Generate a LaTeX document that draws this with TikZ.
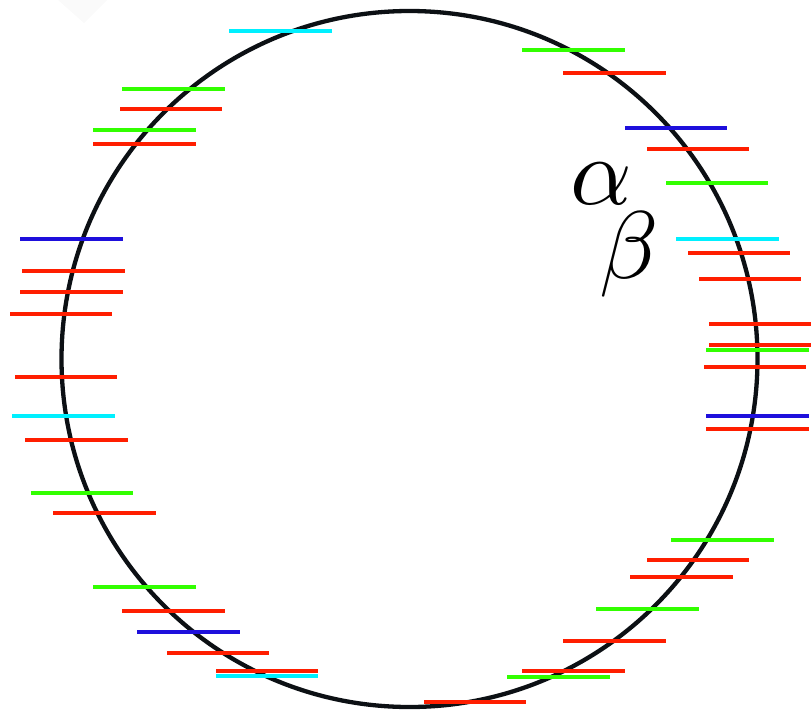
\documentclass[tikz,border=0pt]{standalone}
\usepackage{graphicx}
\definecolor{cR}{RGB}{255,30,0}
\definecolor{cG}{RGB}{50,255,0}
\definecolor{cB}{RGB}{30,15,220}
\definecolor{cC}{RGB}{0,240,255}
\definecolor{ring}{RGB}{12,16,20}
\tikzset{seg/.style={line width=4.3pt}}
\begin{document}
\begin{tikzpicture}[x=1pt,y=-1pt]
\useasboundingbox (0,0) rectangle (812,713);
\fill[black!2] (58,0) -- (107,0) -- (84,23) -- cycle;
\draw[ring,line width=4.3pt] (409.5,359) circle[radius=348];
% left side
\foreach \a/\b/\y/\c in {229/332/31/cC, 122/225/89/cG, 120/222/109/cR, 93/196/130/cG, 93/196/144/cR,
  20/123/239/cB, 22/125/271/cR, 20/123/292/cR, 10/112/314/cR, 15/117/377/cR, 12/115/416/cC, 25/128/440/cR,
  31/133/493/cG, 53/156/513/cR, 93/196/587/cG, 122/225/611/cR, 137/240/632/cB, 167/269/653/cR,
  216/318/671/cR, 216/318/676/cC}
  {\draw[seg,\c] (\a,\y) -- (\b,\y);}
% right side
\foreach \a/\b/\y/\c in {522/625/50/cG, 563/666/73/cR, 625/727/128/cB, 647/749/149/cR, 666/768/183/cG,
  676/779/239/cC, 688/790/253/cR, 699/801/279/cR, 709/811/324/cR, 709/811/345/cR, 706/809/350/cG,
  704/806/367/cR, 706/809/416/cB, 706/809/429/cR,
  671/774/540/cG, 647/749/560/cR, 630/733/577/cR, 596/699/609/cG, 563/666/641/cR, 522/625/671/cR,
  507/610/677/cG, 424/526/702/cR}
  {\draw[seg,\c] (\a,\y) -- (\b,\y);}
\node[anchor=base,inner sep=0pt] (alpha) at (601,204) {\scalebox{9.6}{$\alpha$}};
\node[anchor=base,inner sep=0pt] (beta) at (629,278) {\scalebox{9.6}{$\beta$}};
\end{tikzpicture}
\end{document}
